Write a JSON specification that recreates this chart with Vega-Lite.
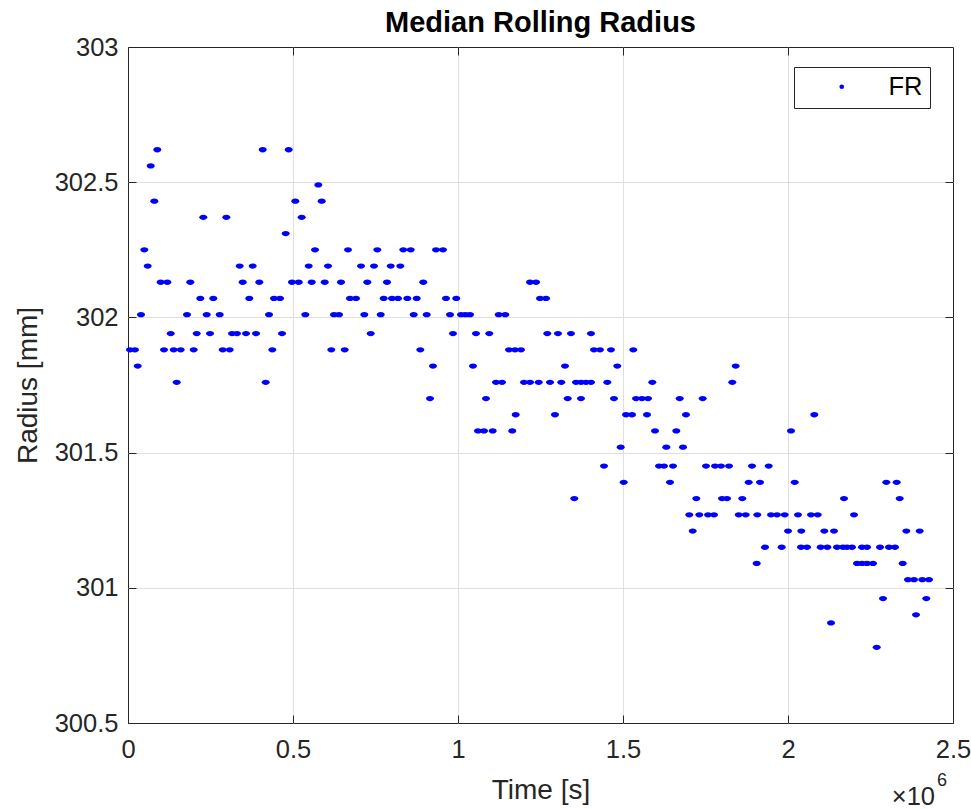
{
  "$schema": "https://vega.github.io/schema/vega-lite/v6.json",
  "width": 825,
  "height": 676,
  "autosize": {"type": "none"},
  "padding": {"left": 128, "top": 47, "right": 18, "bottom": 86},
  "background": "white",
  "title": {
    "text": "Median Rolling Radius",
    "font": "Liberation Sans",
    "fontSize": 29,
    "fontWeight": "bold",
    "color": "#000000",
    "anchor": "middle",
    "offset": -3
  },
  "config": {
    "font": "Liberation Sans",
    "view": {"stroke": "#262626", "strokeWidth": 1}
  },
  "datasets": {
    "fr": [
      {"wheel": "FR", "time": 88800, "radius": 302.62},
      {"wheel": "FR", "time": 408200, "radius": 302.62},
      {"wheel": "FR", "time": 487000, "radius": 302.62},
      {"wheel": "FR", "time": 68800, "radius": 302.56},
      {"wheel": "FR", "time": 576700, "radius": 302.49},
      {"wheel": "FR", "time": 79700, "radius": 302.43},
      {"wheel": "FR", "time": 507000, "radius": 302.43},
      {"wheel": "FR", "time": 587000, "radius": 302.43},
      {"wheel": "FR", "time": 228200, "radius": 302.37},
      {"wheel": "FR", "time": 297900, "radius": 302.37},
      {"wheel": "FR", "time": 526400, "radius": 302.37},
      {"wheel": "FR", "time": 477900, "radius": 302.31},
      {"wheel": "FR", "time": 49400, "radius": 302.25},
      {"wheel": "FR", "time": 566700, "radius": 302.25},
      {"wheel": "FR", "time": 666700, "radius": 302.25},
      {"wheel": "FR", "time": 755500, "radius": 302.25},
      {"wheel": "FR", "time": 834200, "radius": 302.25},
      {"wheel": "FR", "time": 856700, "radius": 302.25},
      {"wheel": "FR", "time": 933300, "radius": 302.25},
      {"wheel": "FR", "time": 954500, "radius": 302.25},
      {"wheel": "FR", "time": 59700, "radius": 302.19},
      {"wheel": "FR", "time": 338500, "radius": 302.19},
      {"wheel": "FR", "time": 377900, "radius": 302.19},
      {"wheel": "FR", "time": 547600, "radius": 302.19},
      {"wheel": "FR", "time": 606100, "radius": 302.19},
      {"wheel": "FR", "time": 706100, "radius": 302.19},
      {"wheel": "FR", "time": 745500, "radius": 302.19},
      {"wheel": "FR", "time": 796100, "radius": 302.19},
      {"wheel": "FR", "time": 825200, "radius": 302.19},
      {"wheel": "FR", "time": 99100, "radius": 302.13},
      {"wheel": "FR", "time": 119100, "radius": 302.13},
      {"wheel": "FR", "time": 188800, "radius": 302.13},
      {"wheel": "FR", "time": 347600, "radius": 302.13},
      {"wheel": "FR", "time": 397900, "radius": 302.13},
      {"wheel": "FR", "time": 497000, "radius": 302.13},
      {"wheel": "FR", "time": 517300, "radius": 302.13},
      {"wheel": "FR", "time": 556700, "radius": 302.13},
      {"wheel": "FR", "time": 596100, "radius": 302.13},
      {"wheel": "FR", "time": 645500, "radius": 302.13},
      {"wheel": "FR", "time": 725200, "radius": 302.13},
      {"wheel": "FR", "time": 784800, "radius": 302.13},
      {"wheel": "FR", "time": 894800, "radius": 302.13},
      {"wheel": "FR", "time": 1218200, "radius": 302.13},
      {"wheel": "FR", "time": 1236400, "radius": 302.13},
      {"wheel": "FR", "time": 219100, "radius": 302.07},
      {"wheel": "FR", "time": 258500, "radius": 302.07},
      {"wheel": "FR", "time": 367600, "radius": 302.07},
      {"wheel": "FR", "time": 442400, "radius": 302.07},
      {"wheel": "FR", "time": 460600, "radius": 302.07},
      {"wheel": "FR", "time": 672700, "radius": 302.07},
      {"wheel": "FR", "time": 690900, "radius": 302.07},
      {"wheel": "FR", "time": 774800, "radius": 302.07},
      {"wheel": "FR", "time": 800000, "radius": 302.07},
      {"wheel": "FR", "time": 818200, "radius": 302.07},
      {"wheel": "FR", "time": 846400, "radius": 302.07},
      {"wheel": "FR", "time": 874800, "radius": 302.07},
      {"wheel": "FR", "time": 963600, "radius": 302.07},
      {"wheel": "FR", "time": 994800, "radius": 302.07},
      {"wheel": "FR", "time": 1248500, "radius": 302.07},
      {"wheel": "FR", "time": 1266700, "radius": 302.07},
      {"wheel": "FR", "time": 39400, "radius": 302.01},
      {"wheel": "FR", "time": 178800, "radius": 302.01},
      {"wheel": "FR", "time": 238500, "radius": 302.01},
      {"wheel": "FR", "time": 277900, "radius": 302.01},
      {"wheel": "FR", "time": 427300, "radius": 302.01},
      {"wheel": "FR", "time": 537300, "radius": 302.01},
      {"wheel": "FR", "time": 624200, "radius": 302.01},
      {"wheel": "FR", "time": 639400, "radius": 302.01},
      {"wheel": "FR", "time": 716100, "radius": 302.01},
      {"wheel": "FR", "time": 765800, "radius": 302.01},
      {"wheel": "FR", "time": 865800, "radius": 302.01},
      {"wheel": "FR", "time": 905200, "radius": 302.01},
      {"wheel": "FR", "time": 975800, "radius": 302.01},
      {"wheel": "FR", "time": 1009100, "radius": 302.01},
      {"wheel": "FR", "time": 1022700, "radius": 302.01},
      {"wheel": "FR", "time": 1036400, "radius": 302.01},
      {"wheel": "FR", "time": 1123300, "radius": 302.01},
      {"wheel": "FR", "time": 1143300, "radius": 302.01},
      {"wheel": "FR", "time": 129400, "radius": 301.94},
      {"wheel": "FR", "time": 208200, "radius": 301.94},
      {"wheel": "FR", "time": 248500, "radius": 301.94},
      {"wheel": "FR", "time": 315200, "radius": 301.94},
      {"wheel": "FR", "time": 330300, "radius": 301.94},
      {"wheel": "FR", "time": 357600, "radius": 301.94},
      {"wheel": "FR", "time": 387900, "radius": 301.94},
      {"wheel": "FR", "time": 466700, "radius": 301.94},
      {"wheel": "FR", "time": 735500, "radius": 301.94},
      {"wheel": "FR", "time": 984800, "radius": 301.94},
      {"wheel": "FR", "time": 1054500, "radius": 301.94},
      {"wheel": "FR", "time": 1094800, "radius": 301.94},
      {"wheel": "FR", "time": 1270600, "radius": 301.94},
      {"wheel": "FR", "time": 1303000, "radius": 301.94},
      {"wheel": "FR", "time": 1342400, "radius": 301.94},
      {"wheel": "FR", "time": 1403000, "radius": 301.94},
      {"wheel": "FR", "time": 6100, "radius": 301.88},
      {"wheel": "FR", "time": 21200, "radius": 301.88},
      {"wheel": "FR", "time": 109100, "radius": 301.88},
      {"wheel": "FR", "time": 138500, "radius": 301.88},
      {"wheel": "FR", "time": 159700, "radius": 301.88},
      {"wheel": "FR", "time": 199100, "radius": 301.88},
      {"wheel": "FR", "time": 287000, "radius": 301.88},
      {"wheel": "FR", "time": 308200, "radius": 301.88},
      {"wheel": "FR", "time": 437300, "radius": 301.88},
      {"wheel": "FR", "time": 616100, "radius": 301.88},
      {"wheel": "FR", "time": 656700, "radius": 301.88},
      {"wheel": "FR", "time": 885800, "radius": 301.88},
      {"wheel": "FR", "time": 1154500, "radius": 301.88},
      {"wheel": "FR", "time": 1172700, "radius": 301.88},
      {"wheel": "FR", "time": 1190900, "radius": 301.88},
      {"wheel": "FR", "time": 1412100, "radius": 301.88},
      {"wheel": "FR", "time": 1430300, "radius": 301.88},
      {"wheel": "FR", "time": 1463600, "radius": 301.88},
      {"wheel": "FR", "time": 1531200, "radius": 301.88},
      {"wheel": "FR", "time": 29400, "radius": 301.82},
      {"wheel": "FR", "time": 924200, "radius": 301.82},
      {"wheel": "FR", "time": 1045500, "radius": 301.82},
      {"wheel": "FR", "time": 1324200, "radius": 301.82},
      {"wheel": "FR", "time": 1482700, "radius": 301.82},
      {"wheel": "FR", "time": 1841500, "radius": 301.82},
      {"wheel": "FR", "time": 147600, "radius": 301.76},
      {"wheel": "FR", "time": 417300, "radius": 301.76},
      {"wheel": "FR", "time": 1115200, "radius": 301.76},
      {"wheel": "FR", "time": 1133300, "radius": 301.76},
      {"wheel": "FR", "time": 1200000, "radius": 301.76},
      {"wheel": "FR", "time": 1218200, "radius": 301.76},
      {"wheel": "FR", "time": 1244500, "radius": 301.76},
      {"wheel": "FR", "time": 1278800, "radius": 301.76},
      {"wheel": "FR", "time": 1313000, "radius": 301.76},
      {"wheel": "FR", "time": 1357600, "radius": 301.76},
      {"wheel": "FR", "time": 1372700, "radius": 301.76},
      {"wheel": "FR", "time": 1387900, "radius": 301.76},
      {"wheel": "FR", "time": 1403000, "radius": 301.76},
      {"wheel": "FR", "time": 1452400, "radius": 301.76},
      {"wheel": "FR", "time": 1588800, "radius": 301.76},
      {"wheel": "FR", "time": 1831200, "radius": 301.76},
      {"wheel": "FR", "time": 915200, "radius": 301.70},
      {"wheel": "FR", "time": 1084800, "radius": 301.70},
      {"wheel": "FR", "time": 1332400, "radius": 301.70},
      {"wheel": "FR", "time": 1372700, "radius": 301.70},
      {"wheel": "FR", "time": 1472700, "radius": 301.70},
      {"wheel": "FR", "time": 1539400, "radius": 301.70},
      {"wheel": "FR", "time": 1557600, "radius": 301.70},
      {"wheel": "FR", "time": 1575800, "radius": 301.70},
      {"wheel": "FR", "time": 1671800, "radius": 301.70},
      {"wheel": "FR", "time": 1741500, "radius": 301.70},
      {"wheel": "FR", "time": 1174800, "radius": 301.64},
      {"wheel": "FR", "time": 1293900, "radius": 301.64},
      {"wheel": "FR", "time": 1509100, "radius": 301.64},
      {"wheel": "FR", "time": 1527300, "radius": 301.64},
      {"wheel": "FR", "time": 1572700, "radius": 301.64},
      {"wheel": "FR", "time": 1690900, "radius": 301.64},
      {"wheel": "FR", "time": 2079700, "radius": 301.64},
      {"wheel": "FR", "time": 1060600, "radius": 301.58},
      {"wheel": "FR", "time": 1078800, "radius": 301.58},
      {"wheel": "FR", "time": 1105200, "radius": 301.58},
      {"wheel": "FR", "time": 1164500, "radius": 301.58},
      {"wheel": "FR", "time": 1597000, "radius": 301.58},
      {"wheel": "FR", "time": 1661500, "radius": 301.58},
      {"wheel": "FR", "time": 2009100, "radius": 301.58},
      {"wheel": "FR", "time": 1493000, "radius": 301.52},
      {"wheel": "FR", "time": 1631200, "radius": 301.52},
      {"wheel": "FR", "time": 1681800, "radius": 301.52},
      {"wheel": "FR", "time": 1442400, "radius": 301.45},
      {"wheel": "FR", "time": 1609100, "radius": 301.45},
      {"wheel": "FR", "time": 1624200, "radius": 301.45},
      {"wheel": "FR", "time": 1651500, "radius": 301.45},
      {"wheel": "FR", "time": 1751500, "radius": 301.45},
      {"wheel": "FR", "time": 1778800, "radius": 301.45},
      {"wheel": "FR", "time": 1797000, "radius": 301.45},
      {"wheel": "FR", "time": 1821200, "radius": 301.45},
      {"wheel": "FR", "time": 1890900, "radius": 301.45},
      {"wheel": "FR", "time": 1941500, "radius": 301.45},
      {"wheel": "FR", "time": 1502100, "radius": 301.39},
      {"wheel": "FR", "time": 1642400, "radius": 301.39},
      {"wheel": "FR", "time": 1880900, "radius": 301.39},
      {"wheel": "FR", "time": 1915200, "radius": 301.39},
      {"wheel": "FR", "time": 2020300, "radius": 301.39},
      {"wheel": "FR", "time": 2297900, "radius": 301.39},
      {"wheel": "FR", "time": 2329400, "radius": 301.39},
      {"wheel": "FR", "time": 1352400, "radius": 301.33},
      {"wheel": "FR", "time": 1722100, "radius": 301.33},
      {"wheel": "FR", "time": 1800000, "radius": 301.33},
      {"wheel": "FR", "time": 1815200, "radius": 301.33},
      {"wheel": "FR", "time": 1861500, "radius": 301.33},
      {"wheel": "FR", "time": 2169700, "radius": 301.33},
      {"wheel": "FR", "time": 2338500, "radius": 301.33},
      {"wheel": "FR", "time": 1700900, "radius": 301.27},
      {"wheel": "FR", "time": 1731200, "radius": 301.27},
      {"wheel": "FR", "time": 1757600, "radius": 301.27},
      {"wheel": "FR", "time": 1775800, "radius": 301.27},
      {"wheel": "FR", "time": 1850600, "radius": 301.27},
      {"wheel": "FR", "time": 1871800, "radius": 301.27},
      {"wheel": "FR", "time": 1907000, "radius": 301.27},
      {"wheel": "FR", "time": 1948500, "radius": 301.27},
      {"wheel": "FR", "time": 1966700, "radius": 301.27},
      {"wheel": "FR", "time": 1990000, "radius": 301.27},
      {"wheel": "FR", "time": 2030300, "radius": 301.27},
      {"wheel": "FR", "time": 2069700, "radius": 301.27},
      {"wheel": "FR", "time": 2090000, "radius": 301.27},
      {"wheel": "FR", "time": 2200000, "radius": 301.27},
      {"wheel": "FR", "time": 1711200, "radius": 301.21},
      {"wheel": "FR", "time": 2000000, "radius": 301.21},
      {"wheel": "FR", "time": 2040300, "radius": 301.21},
      {"wheel": "FR", "time": 2110000, "radius": 301.21},
      {"wheel": "FR", "time": 2139400, "radius": 301.21},
      {"wheel": "FR", "time": 2358500, "radius": 301.21},
      {"wheel": "FR", "time": 2399100, "radius": 301.21},
      {"wheel": "FR", "time": 1930300, "radius": 301.15},
      {"wheel": "FR", "time": 1980900, "radius": 301.15},
      {"wheel": "FR", "time": 2039400, "radius": 301.15},
      {"wheel": "FR", "time": 2057600, "radius": 301.15},
      {"wheel": "FR", "time": 2099100, "radius": 301.15},
      {"wheel": "FR", "time": 2119100, "radius": 301.15},
      {"wheel": "FR", "time": 2148500, "radius": 301.15},
      {"wheel": "FR", "time": 2166700, "radius": 301.15},
      {"wheel": "FR", "time": 2178800, "radius": 301.15},
      {"wheel": "FR", "time": 2193900, "radius": 301.15},
      {"wheel": "FR", "time": 2224200, "radius": 301.15},
      {"wheel": "FR", "time": 2239400, "radius": 301.15},
      {"wheel": "FR", "time": 2278800, "radius": 301.15},
      {"wheel": "FR", "time": 2306100, "radius": 301.15},
      {"wheel": "FR", "time": 2324200, "radius": 301.15},
      {"wheel": "FR", "time": 1905200, "radius": 301.09},
      {"wheel": "FR", "time": 2209100, "radius": 301.09},
      {"wheel": "FR", "time": 2224200, "radius": 301.09},
      {"wheel": "FR", "time": 2239400, "radius": 301.09},
      {"wheel": "FR", "time": 2257600, "radius": 301.09},
      {"wheel": "FR", "time": 2347600, "radius": 301.09},
      {"wheel": "FR", "time": 2363600, "radius": 301.03},
      {"wheel": "FR", "time": 2381800, "radius": 301.03},
      {"wheel": "FR", "time": 2407000, "radius": 301.03},
      {"wheel": "FR", "time": 2427300, "radius": 301.03},
      {"wheel": "FR", "time": 2287900, "radius": 300.96},
      {"wheel": "FR", "time": 2419100, "radius": 300.96},
      {"wheel": "FR", "time": 2387900, "radius": 300.90},
      {"wheel": "FR", "time": 2130300, "radius": 300.87},
      {"wheel": "FR", "time": 2268800, "radius": 300.78}
    ]
  },
  "layer": [
    {
      "data": {"name": "fr"},
      "mark": {
        "type": "point",
        "shape": "M -1 0 A 1 0.66 0 1 0 1 0 A 1 0.66 0 1 0 -1 0 Z",
        "filled": true,
        "size": 64,
        "opacity": 1
      },
      "encoding": {
        "x": {
          "field": "time",
          "type": "quantitative",
          "scale": {"domain": [0, 2500000], "nice": false, "zero": false},
          "axis": {
            "orient": "bottom",
            "values": [0, 500000, 1000000, 1500000, 2000000, 2500000],
            "labelExpr": "toString(datum.value / 1000000)",
            "title": "Time [s]",
            "titleFont": "Liberation Sans",
            "titleFontSize": 28,
            "titleFontWeight": "normal",
            "titleColor": "#262626",
            "titlePadding": 14,
            "labelFont": "Liberation Sans",
            "labelFontSize": 25.5,
            "labelColor": "#262626",
            "labelFlush": false,
            "labelOverlap": false,
            "labelBound": false,
            "labelPadding": 22,
            "tickSize": -8,
            "tickColor": "#262626",
            "domain": false,
            "grid": false
          }
        },
        "y": {
          "field": "radius",
          "type": "quantitative",
          "scale": {"domain": [300.5, 303], "nice": false, "zero": false},
          "axis": {
            "orient": "left",
            "values": [300.5, 301, 301.5, 302, 302.5, 303],
            "labelExpr": "toString(datum.value)",
            "title": "Radius [mm]",
            "titleFont": "Liberation Sans",
            "titleFontSize": 28,
            "titleFontWeight": "normal",
            "titleColor": "#262626",
            "titlePadding": 12,
            "labelFont": "Liberation Sans",
            "labelFontSize": 25.5,
            "labelColor": "#262626",
            "labelFlush": false,
            "labelOverlap": false,
            "labelBound": false,
            "labelPadding": 18,
            "tickSize": -8,
            "tickColor": "#262626",
            "domain": false,
            "grid": false
          }
        },
        "color": {
          "field": "wheel",
          "type": "nominal",
          "scale": {"range": ["#0000ff"]},
          "legend": {
            "title": null,
            "orient": "none",
            "legendX": 666,
            "legendY": 20,
            "strokeColor": "#262626",
            "fillColor": "#ffffff",
            "cornerRadius": 0,
            "padding": 7,
            "symbolType": "circle",
            "symbolSize": 22,
            "symbolStrokeWidth": 0,
            "symbolOffset": 28,
            "labelOffset": 34,
            "labelFont": "Liberation Sans",
            "labelFontSize": 25.5,
            "labelColor": "#000000"
          }
        }
      }
    },
    {
      "data": {"values": [{}]},
      "mark": {
        "type": "text",
        "text": "×10",
        "align": "right",
        "baseline": "alphabetic",
        "dx": -18,
        "dy": 82,
        "font": "Liberation Sans",
        "fontSize": 25.5,
        "color": "#262626"
      },
      "encoding": {
        "x": {"datum": 2500000, "type": "quantitative", "axis": null},
        "y": {"datum": 300.5, "type": "quantitative", "axis": null}
      }
    },
    {
      "data": {"values": [{}]},
      "mark": {
        "type": "text",
        "text": "6",
        "align": "left",
        "baseline": "alphabetic",
        "dx": -16,
        "dy": 63,
        "font": "Liberation Sans",
        "fontSize": 18,
        "color": "#262626"
      },
      "encoding": {
        "x": {
          "datum": 2500000,
          "type": "quantitative",
          "axis": {
            "orient": "top",
            "values": [500000, 1000000, 1500000, 2000000],
            "labels": false,
            "title": null,
            "domain": false,
            "tickSize": -8,
            "tickColor": "#262626",
            "grid": true,
            "gridColor": "#dfdfdf",
            "gridWidth": 1
          }
        },
        "y": {
          "datum": 300.5,
          "type": "quantitative",
          "axis": {
            "orient": "right",
            "values": [301, 301.5, 302, 302.5],
            "labels": false,
            "title": null,
            "domain": false,
            "tickSize": -8,
            "tickColor": "#262626",
            "grid": true,
            "gridColor": "#dfdfdf",
            "gridWidth": 1
          }
        }
      }
    }
  ],
  "resolve": {"axis": {"x": "independent", "y": "independent"}}
}
